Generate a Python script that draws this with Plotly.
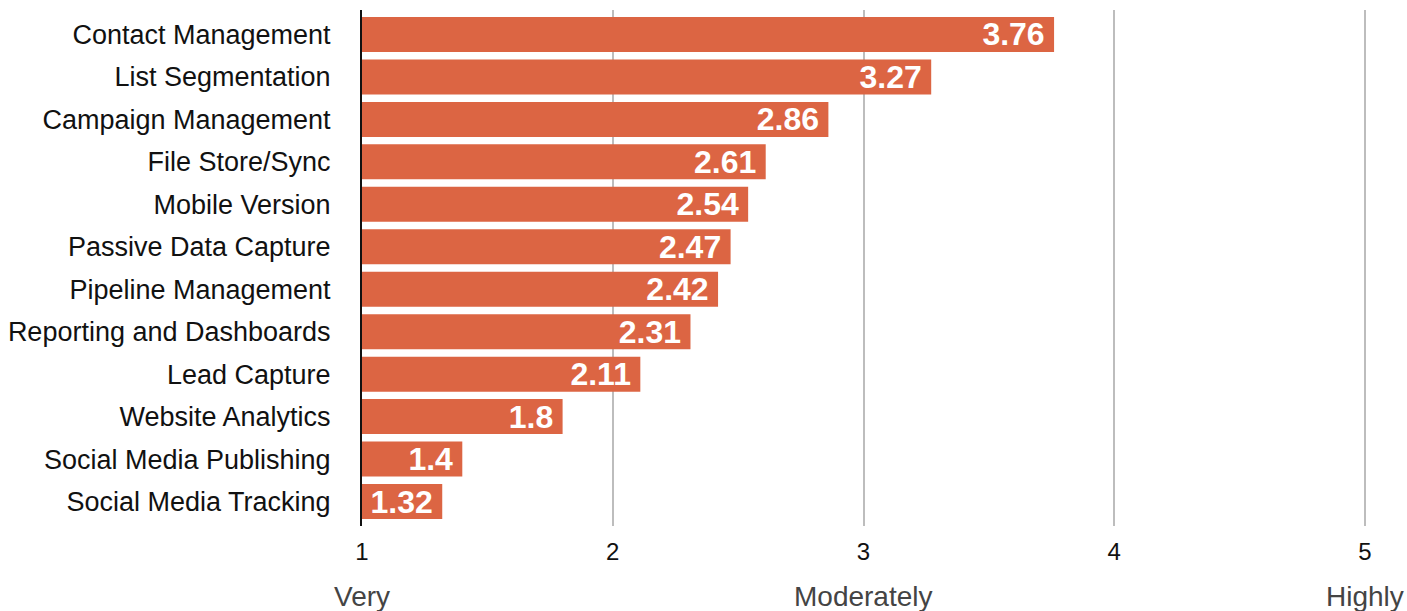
import plotly.graph_objects as go

categories = ["Contact Management", "List Segmentation", "Campaign Management",
              "File Store/Sync", "Mobile Version", "Passive Data Capture",
              "Pipeline Management", "Reporting and Dashboards", "Lead Capture",
              "Website Analytics", "Social Media Publishing", "Social Media Tracking"]
values = [3.76, 3.27, 2.86, 2.61, 2.54, 2.47, 2.42, 2.31, 2.11, 1.8, 1.4, 1.32]
tick_vals = [1, 2, 3, 4, 5]
scale_labels = ["Very", "Moderately", "Highly"]
scale_positions = [1, 3, 5]

FONT = "Helvetica, Liberation Sans, Arial, sans-serif"
BAR = "#DC6543"

fig = go.Figure(go.Bar(
    y=categories, x=[v - 1 for v in values], base=1, orientation="h",
    marker=dict(color=BAR, line=dict(width=0)),
    text=[str(v) + "\u2009" for v in values], textposition="inside",
    insidetextanchor="end", constraintext="none",
    textfont=dict(family=FONT, size=32, color="white", weight="bold"),
    hoverinfo="skip",
))

annotations = [dict(x=p, y=0, xref="x", yref="paper", text=t, showarrow=False,
                    yshift=-70, yanchor="middle", xanchor="center",
                    font=dict(family=FONT, size=28, color="#444444"))
               for t, p in zip(scale_labels, scale_positions)]

fig.update_layout(
    width=1407, height=611,
    margin=dict(l=362, r=40, t=10, b=85),
    paper_bgcolor="white", plot_bgcolor="white",
    bargap=0.175, showlegend=False,
    annotations=annotations,
    xaxis=dict(range=[1, 5.008], tickvals=tick_vals, showgrid=True,
               gridcolor="#bdbdbd", gridwidth=2, zeroline=False,
               showline=False, ticks="", ticklabelstandoff=9, automargin=False,
               tickfont=dict(family=FONT, size=24, color="#111111")),
    yaxis=dict(categoryorder="array", categoryarray=categories,
               range=[11.577, -0.577], showline=True, linecolor="#111111",
               linewidth=2, showgrid=False, zeroline=False, ticks="",
               ticklabelstandoff=24, automargin=False,
               tickfont=dict(family=FONT, size=27, color="#111111")),
)

fig.write_html("out.html")
